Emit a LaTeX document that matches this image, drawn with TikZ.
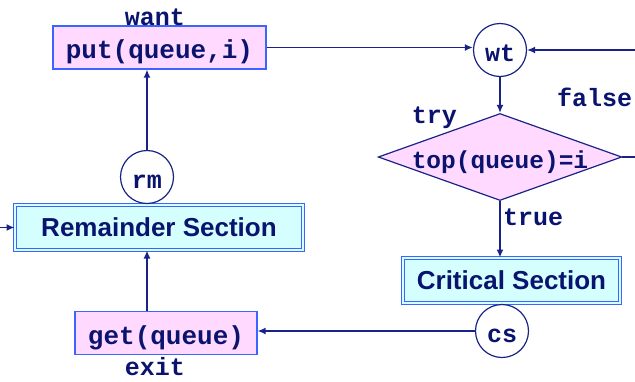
\documentclass[tikz,border=0pt]{standalone}
\usepackage{fontspec}
\setmonofont{Liberation Mono}
\setsansfont{Liberation Sans}
\usetikzlibrary{arrows.meta,shapes.geometric}
\definecolor{txtblue}{RGB}{10,20,110}
\definecolor{lineblue}{RGB}{25,35,135}
\definecolor{edgeblue}{RGB}{60,100,255}
\definecolor{pinkfill}{RGB}{255,217,255}
\definecolor{cyanfill}{RGB}{213,255,255}

\begin{document}
\begin{tikzpicture}[x=1pt,y=-1pt,
		>={Latex[length=8pt,width=7pt]},
		flow/.style={draw=lineblue,line width=1.5pt,->},
		code/.style={text=txtblue,font=\fontsize{26}{30}\selectfont\ttfamily\bfseries,text height=23pt,text depth=1pt},
		opbox/.style={code,draw=edgeblue,fill=pinkfill,line width=1.2pt,inner sep=0pt},
		section/.style={draw=edgeblue,double=cyanfill,double distance=2pt,line width=1pt,fill=cyanfill,inner sep=0pt,
			text=txtblue,font=\fontsize{26}{30}\selectfont\sffamily\bfseries},
		state/.style={code,circle,draw=lineblue,fill=white,line width=1.2pt,inner sep=0pt,minimum size=53pt,font=\fontsize{25}{30}\selectfont\ttfamily\bfseries},
		test/.style={code,diamond,aspect=2.8,draw=lineblue,fill=pinkfill,line width=1.2pt,inner sep=0pt,minimum width=240pt,minimum height=85pt,font=\fontsize{24.5}{28}\selectfont\ttfamily\bfseries},
		lbl/.style={text=txtblue,font=\fontsize{25}{30}\selectfont\ttfamily\bfseries,inner sep=0pt}]
	\useasboundingbox (0,0) rectangle (635,381);
	% left column
	\node[opbox,minimum width=213pt,minimum height=43pt] (put) at (159.5,47.5) {put(queue,i)};
	\node[section,minimum width=288pt,minimum height=45pt] (rem) at (159,227.5) {Remainder Section};
	\node[state] (rm) at (147,177) {rm};
	\node[opbox,minimum width=182pt,minimum height=43pt] (get) at (166,333) {get(queue)};
	% right column
	\node[state] (wt) at (500,50) {wt};
	\node[test] (top) at (500,157) {top(queue)=i};
	\node[section,minimum width=217pt,minimum height=45pt] (crit) at (511.5,280.5) {Critical Section};
	\node[state] (cs) at (502,331) {cs};
	% labels
	\node[lbl,anchor=base] (want) at (155,25.5) {want};
	\node[lbl,anchor=base] (exit) at (155,375) {exit};
	\node[lbl,anchor=base] (try) at (434.5,123) {try};
	\node[lbl,anchor=base west] (false) at (557,106.5) {false};
	\node[lbl,anchor=base west] (true) at (503,225) {true};
	% connectors
	\coordinate (loop) at (660,100);
	\coordinate (remin) at (-20,227.5);
	\draw[flow] (put.east) -- (put.east -| wt.west);
	\draw[flow] (wt.south) -- (top.north);
	\draw[flow] (top.east) -- (top.east -| loop) |- (wt.east);
	\draw[flow] (top.south) -- (top.south |- crit.north);
	\draw[flow] (cs.west) -- (cs.west -| get.east);
	\draw[flow] (get.north -| rm) -- (rem.south -| rm);
	\draw[flow] (rm.north) -- (rm.north |- put.south);
	\draw[flow] (remin) -- (rem.west);
\end{tikzpicture}
\end{document}
